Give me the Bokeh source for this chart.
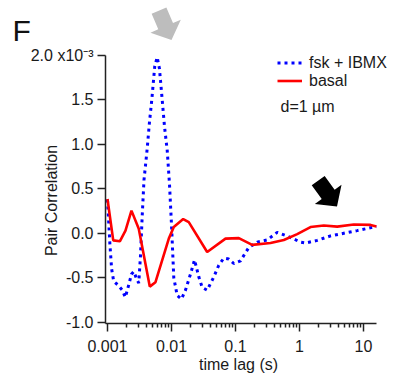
import math
from bokeh.plotting import figure
from bokeh.models import (FixedTicker, Label, Legend, LegendItem, PolyAnnotation, Range1d)
from bokeh.embed import file_html
from bokeh.resources import INLINE

# ---------------- data (values in units of 1e-3) ----------------
time_fsk = [0.001, 0.00109, 0.00116, 0.00125, 0.00145, 0.0017, 0.0019, 0.00215, 0.00237,
            0.00258, 0.00284, 0.00308, 0.00328, 0.00349, 0.00372, 0.00417, 0.00453, 0.00492,
            0.00548, 0.00598, 0.00649, 0.00716, 0.00778, 0.00858, 0.00931, 0.0100, 0.01086,
            0.01227, 0.01432, 0.01655, 0.0198, 0.0229, 0.0267, 0.0302, 0.0361, 0.0459,
            0.0548, 0.0656, 0.0785, 0.0939, 0.1196, 0.1614, 0.2183, 0.3127, 0.4484,
            0.6427, 1.036, 1.241, 1.891, 3.05, 4.92, 7.97, 14.5, 15.9]
corr_fsk = [0.38, -0.12, -0.40, -0.54, -0.58, -0.64, -0.72, -0.58, -0.46,
            -0.43, -0.51, -0.56, -0.25, 0.20, 0.60, 0.95, 1.25, 1.50,
            1.88, 1.98, 1.85, 1.50, 1.20, 0.93, 0.55, 0.10, -0.50,
            -0.70, -0.74, -0.64, -0.46, -0.30, -0.49, -0.61, -0.64, -0.49,
            -0.36, -0.28, -0.29, -0.34, -0.31, -0.16, -0.10, -0.075, 0.01,
            -0.03, -0.10, -0.11, -0.08, -0.03, 0.0, 0.03, 0.07, 0.075]

time_basal = [0.001, 0.00123, 0.00156, 0.00191, 0.00237, 0.00308, 0.00458, 0.00562,
              0.00908, 0.01086, 0.01524, 0.01862, 0.0361, 0.0698, 0.1127, 0.1824,
              0.3524, 0.5689, 0.9204, 1.485, 2.397, 3.879, 7.05, 12.86, 15.9]
corr_basal = [0.386, -0.08, -0.09, 0.03, 0.255, 0.05, -0.60, -0.55,
              -0.06, 0.07, 0.16, 0.125, -0.21, -0.06, -0.055, -0.13,
              -0.11, -0.075, -0.01, 0.07, 0.087, 0.075, 0.098, 0.094, 0.075]

x_ticks = [0.001, 0.01, 0.1, 1, 10]
x_tick_labels = ["0.001", "0.01", "0.1", "1", "10"]
y_ticks = [-1.0, -0.5, 0.0, 0.5, 1.0, 1.5, 2.0]
y_tick_labels = ["-1.0", "-0.5", "0.0", "0.5", "1.0", "1.5", "2.0 x10\u207b\u00b3"]

series_names = ["fsk + IBMX", "basal"]

# ---------------- layout ----------------
W, H = 393, 380
# pixel box spanned by the axes, and the data extent of the axes
PX_L, PX_R, PX_T, PX_B = 105, 376, 55, 323
LOG_L, LOG_R = -3.031, 1.203
V_T, V_B = 2.0, -1.015
FONT = "Liberation Sans"
FS = "16px"
TXT = "#1a1a1a"

KX = (LOG_R - LOG_L) / (PX_R - PX_L)
KY = (V_T - V_B) / (PX_B - PX_T)


def sx(px):
    return 10 ** (LOG_L + (px - PX_L) * KX)


def sy(py):
    return V_T - (py - PX_T) * KY


p = figure(width=W, height=H, x_axis_type="log",
           x_range=Range1d(sx(0), sx(W)), y_range=Range1d(sy(H), sy(0)),
           output_backend="svg", toolbar_location=None,
           min_border=0, min_border_left=0, min_border_right=0,
           min_border_top=0, min_border_bottom=0)
p.outline_line_color = None
p.xgrid.visible = False
p.ygrid.visible = False
p.background_fill_color = "white"
p.border_fill_color = "white"

r_fsk = p.line(time_fsk, corr_fsk, line_color="#0000ff", line_width=3, line_dash="3 4")
r_basal = p.line(time_basal, corr_basal, line_color="#ff0000", line_width=2.6)

xa = p.xaxis[0]
ya = p.yaxis[0]
x_lo, x_hi = 10 ** LOG_L, 10 ** LOG_R
xa.fixed_location = V_B
ya.fixed_location = x_lo
xa.bounds = (x_lo, x_hi)
ya.bounds = (V_B, V_T)
minor = [m * 10 ** e for e in range(-3, 2) for m in range(2, 10)]
xa.ticker = FixedTicker(ticks=x_ticks, minor_ticks=[m for m in minor if m < x_hi])
xa.major_label_overrides = dict(zip(x_ticks, x_tick_labels))
ya.ticker = FixedTicker(ticks=y_ticks, minor_ticks=[])
ya.major_label_overrides = dict(zip(y_ticks, y_tick_labels))

for ax in (xa, ya):
    ax.axis_line_width = 1.5
    ax.axis_line_color = "#222222"
    ax.major_tick_line_width = 1.5
    ax.major_tick_line_color = "#222222"
    ax.minor_tick_line_width = 1.5
    ax.minor_tick_line_color = "#222222"
    ax.major_tick_in = 0
    ax.major_tick_out = 8
    ax.minor_tick_in = 0
    ax.minor_tick_out = 4
    ax.major_label_text_font = FONT
    ax.major_label_text_font_size = FS
    ax.major_label_text_color = TXT
xa.major_label_standoff = 8
ya.major_label_standoff = 4

# axis titles
p.add_layout(Label(x=sx(238), y=sy(364), text="time lag (s)",
                   text_align="center", text_baseline="middle",
                   text_font=FONT, text_font_size=FS, text_color=TXT))
p.add_layout(Label(x=sx(51), y=sy(200), text="Pair Correlation", angle=math.pi / 2,
                   text_align="center", text_baseline="middle",
                   text_font=FONT, text_font_size=FS, text_color=TXT))

# panel letter
p.add_layout(Label(x=sx(12), y=sy(30), text="F", text_align="left",
                   text_baseline="alphabetic", text_font=FONT,
                   text_font_size="30px", text_color="#111111"))

# legend
legend = Legend(items=[LegendItem(label=series_names[0], renderers=[r_fsk]),
                       LegendItem(label=series_names[1], renderers=[r_basal])],
                location=(277, H - 89.5),
                padding=0, margin=0, spacing=0,
                glyph_width=25, glyph_height=15, label_height=15,
                label_standoff=7, border_line_alpha=0, background_fill_alpha=0,
                label_text_font=FONT, label_text_font_size=FS,
                label_text_color=TXT)
p.add_layout(legend)

p.add_layout(Label(x=sx(280), y=sy(106), text="d=1 \u00b5m", text_align="left",
                   text_baseline="middle", text_font=FONT, text_font_size=FS,
                   text_color=TXT))


# block arrows (decorations)
def block_arrow(tip, angle_deg, shaft_len, head_len, shaft_w, head_w):
    a = math.radians(angle_deg)
    ux, uy = math.cos(a), math.sin(a)
    nx, ny = -uy, ux
    tx, ty = tip
    bx, by = tx - ux * head_len, ty - uy * head_len
    ex, ey = bx - ux * shaft_len, by - uy * shaft_len
    pts = [
        (ex + nx * shaft_w / 2, ey + ny * shaft_w / 2),
        (bx + nx * shaft_w / 2, by + ny * shaft_w / 2),
        (bx + nx * head_w / 2, by + ny * head_w / 2),
        (tx, ty),
        (bx - nx * head_w / 2, by - ny * head_w / 2),
        (bx - nx * shaft_w / 2, by - ny * shaft_w / 2),
        (ex - nx * shaft_w / 2, ey - ny * shaft_w / 2),
    ]
    return [sx(x) for x, _ in pts], [sy(y) for _, y in pts]


for tip, ang, col in (((171, 39.5), 67, "#bdbdbd"), ((336.5, 206), 54, "#000000")):
    xs, ys = block_arrow(tip, ang, 17, 15, 16, 33)
    p.add_layout(PolyAnnotation(xs=xs, ys=ys, fill_color=col, fill_alpha=1,
                                line_color=None))

open("out.html", "w").write(file_html(p, INLINE))
